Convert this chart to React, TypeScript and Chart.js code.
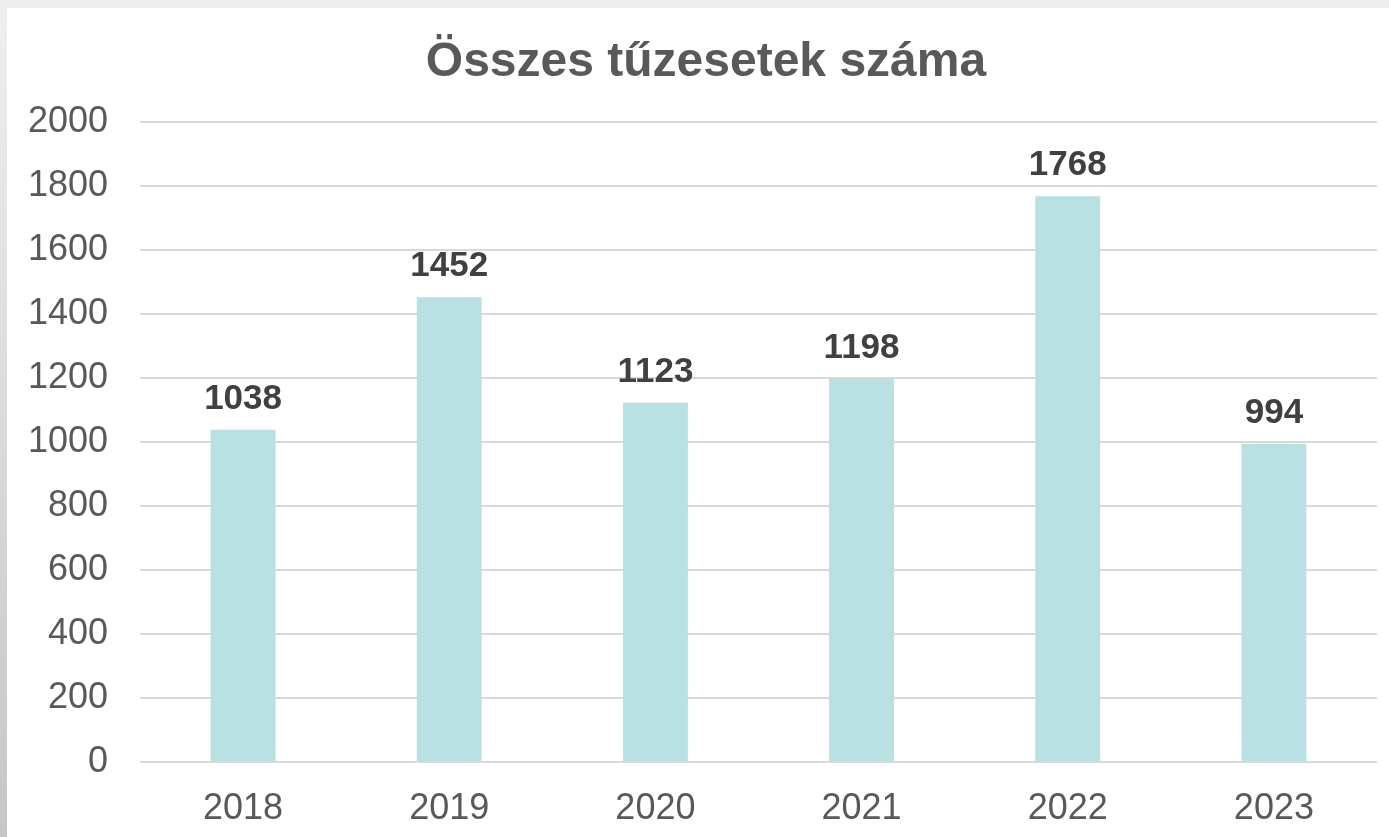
import React, { useEffect, useRef } from "react";
import { Chart, registerables } from "chart.js";

Chart.register(...registerables);

const categories = ["2018", "2019", "2020", "2021", "2022", "2023"];
const fireCounts = [1038, 1452, 1123, 1198, 1768, 994];
const titleText = "Összes tűzesetek száma";

const FONT = "'Liberation Sans', Arial, sans-serif";

const dataLabelPlugin = {
  id: "dataLabels",
  afterDatasetsDraw(chart: any) {
    const ctx = chart.ctx;
    const meta = chart.getDatasetMeta(0);
    ctx.save();
    ctx.font = `bold 35px ${FONT}`;
    ctx.fillStyle = "#404040";
    ctx.textAlign = "center";
    ctx.textBaseline = "alphabetic";
    meta.data.forEach((bar: any, i: number) => {
      ctx.fillText(String(chart.data.datasets[0].data[i]), bar.x, bar.y - 21);
    });
    ctx.restore();
  },
};

const titlePlugin = {
  id: "customTitle",
  afterDraw(chart: any) {
    const ctx = chart.ctx;
    ctx.save();
    ctx.font = `bold 48px ${FONT}`;
    ctx.fillStyle = "#595959";
    ctx.textAlign = "center";
    ctx.textBaseline = "alphabetic";
    ctx.fillText(titleText, 699, 68);
    ctx.restore();
  },
};

export default function App() {
  const ref = useRef<HTMLCanvasElement>(null);
  useEffect(() => {
    if (!ref.current) return;
    const chart = new Chart(ref.current, {
      type: "bar",
      data: {
        labels: categories,
        datasets: [
          {
            data: fireCounts,
            backgroundColor: "#b9e0e3",
            barPercentage: 0.63,
            categoryPercentage: 0.5,
          },
        ],
      },
      plugins: [dataLabelPlugin, titlePlugin],
      options: {
        animation: false,
        responsive: false,
        maintainAspectRatio: false,
        layout: { padding: { top: 114, right: 12, left: 0, bottom: 0 } },
        plugins: {
          legend: { display: false },
          tooltip: { enabled: false },
          title: { display: false },
        },
        scales: {
          x: {
            grid: { display: false },
            border: { display: false },
            ticks: {
              color: "#595959",
              font: { family: FONT, size: 36 },
              padding: 17,
            },
            afterFit(scale: any) {
              scale.height = 75;
            },
          },
          y: {
            min: 0,
            max: 2000,
            ticks: {
              stepSize: 200,
              color: "#595959",
              font: { family: FONT, size: 36 },
              padding: 32,
              callback: (v: any) => String(v),
            },
            grid: { color: "#d9d9d9", lineWidth: 2, drawTicks: false },
            border: { display: false },
            afterFit(scale: any) {
              scale.width = 133;
            },
          },
        },
      },
    });
    return () => chart.destroy();
  }, []);

  return (
    <div
      style={{
        position: "fixed",
        left: 0,
        top: 0,
        width: 1389,
        height: 837,
        background: "linear-gradient(to bottom, #efefef, #c6c6c6)",
      }}
    >
      <div
        style={{
          position: "absolute",
          left: 7,
          top: 8,
          width: 1382,
          height: 829,
          background: "#ffffff",
        }}
      >
        <canvas ref={ref} width={1382} height={829} style={{ display: "block" }} />
      </div>
    </div>
  );
}
